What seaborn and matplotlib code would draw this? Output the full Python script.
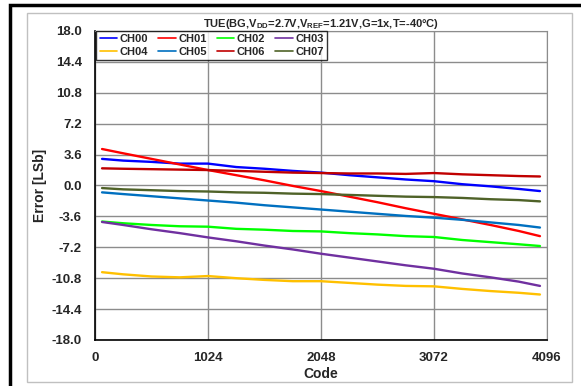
import matplotlib
matplotlib.use("Agg")
import pandas as pd
import seaborn as sns
import matplotlib.pyplot as plt
from matplotlib.patches import Rectangle

codes = [64, 256, 512, 768, 1024, 1280, 1536, 1792, 2048, 2304, 2560, 2816, 3072, 3328, 3584, 3840, 4032]
ch00 = [3.1, 2.9, 2.75, 2.55, 2.55, 2.15, 1.95, 1.7, 1.5, 1.2, 0.95, 0.7, 0.5, 0.15, -0.1, -0.4, -0.65]
ch01 = [4.25, 3.75, 3.1, 2.45, 1.8, 1.2, 0.6, -0.05, -0.65, -1.3, -1.95, -2.65, -3.3, -3.95, -4.6, -5.3, -5.9]
ch02 = [-4.2, -4.4, -4.6, -4.75, -4.8, -5.05, -5.15, -5.3, -5.35, -5.55, -5.7, -5.9, -6.0, -6.35, -6.6, -6.85, -7.05]
ch03 = [-4.25, -4.6, -5.1, -5.55, -6.05, -6.5, -7.0, -7.45, -7.95, -8.4, -8.85, -9.3, -9.7, -10.25, -10.7, -11.2, -11.7]
ch04 = [-10.1, -10.35, -10.6, -10.7, -10.55, -10.8, -11.0, -11.15, -11.15, -11.35, -11.55, -11.7, -11.75, -12.05, -12.3, -12.5, -12.7]
ch05 = [-0.8, -1.0, -1.25, -1.5, -1.75, -2.0, -2.3, -2.55, -2.8, -3.05, -3.3, -3.55, -3.75, -4.0, -4.3, -4.6, -4.9]
ch06 = [2.0, 1.95, 1.9, 1.85, 1.8, 1.7, 1.6, 1.5, 1.45, 1.4, 1.4, 1.35, 1.45, 1.3, 1.2, 1.1, 1.05]
ch07 = [-0.3, -0.45, -0.55, -0.65, -0.7, -0.8, -0.85, -0.95, -1.0, -1.1, -1.2, -1.3, -1.35, -1.45, -1.6, -1.7, -1.85]

channels = ["CH00", "CH01", "CH02", "CH03", "CH04", "CH05", "CH06", "CH07"]
colors = ["#0000FF", "#FF0000", "#00FF00", "#7030A0", "#FFC000", "#0070C0", "#C00000", "#4F6228"]
x_ticks = [0, 1024, 2048, 3072, 4096]
y_ticks = [18.0, 14.4, 10.8, 7.2, 3.6, 0.0, -3.6, -7.2, -10.8, -14.4, -18.0]

series = [ch00, ch01, ch02, ch03, ch04, ch05, ch06, ch07]
rows = []
for name, vals in zip(channels, series):
    for c, v in zip(codes, vals):
        rows.append({"code": c, "err": v, "ch": name})
df = pd.DataFrame(rows)

sns.set_style("white")
plt.rcParams["font.family"] = ["Liberation Sans", "DejaVu Sans"]
plt.rcParams["mathtext.fontset"] = "custom"
plt.rcParams["mathtext.bf"] = "Liberation Sans:bold"
plt.rcParams["mathtext.rm"] = "Liberation Sans:bold"

fig = plt.figure(figsize=(5.81, 3.86), dpi=100)
ax = fig.add_axes([0.1635, 0.1192, 0.778, 0.8005])

sns.lineplot(data=df, x="code", y="err", hue="ch", palette=dict(zip(channels, colors)),
             linewidth=1.7, ax=ax)

ax.set_xlim(0, 4096)
ax.set_ylim(-18, 18)
ax.set_xticks(x_ticks)
ax.set_xticklabels([str(t) for t in x_ticks], fontweight="bold", fontsize=9.5)
ax.set_yticks(y_ticks)
ax.set_yticklabels(["%.1f" % t for t in y_ticks], fontweight="bold", fontsize=9.5)
ax.tick_params(axis="y", length=0, pad=9.5)
ax.tick_params(axis="x", length=0, pad=9)
ax.grid(True, color="#8c8c8c", linewidth=1)
for s in ["top", "right"]:
    ax.spines[s].set_color("#8c8c8c")
for s in ["left", "bottom"]:
    ax.spines[s].set_color("black")
    ax.spines[s].set_linewidth(1.2)

ax.set_xlabel("Code", fontweight="bold", fontsize=10, labelpad=2)
ax.set_ylabel("Error [LSb]", fontweight="bold", fontsize=10, labelpad=3)
ax.set_title(r"TUE(BG,V$_{\mathbf{DD}}$=2.7V,V$_{\mathbf{REF}}$=1.21V,G=1x,T=-40°C)",
             fontweight="bold", fontsize=8, pad=3)

handles, labels = ax.get_legend_handles_labels()
order = [0, 4, 1, 5, 2, 6, 3, 7]
leg = ax.legend([handles[i] for i in order], [labels[i] for i in order], ncol=4,
                loc="upper left", bbox_to_anchor=(0.003, 1.0), borderaxespad=0,
                frameon=True, fancybox=False, edgecolor="black", handlelength=1.6,
                handletextpad=0.2, columnspacing=0.9, borderpad=0.3, labelspacing=0.2,
                prop={"weight": "bold", "size": 8})
leg.get_frame().set_linewidth(1.0)
for h in leg.legend_handles:
    h.set_linewidth(1.2)

fig.add_artist(Rectangle((27 / 581, 1 - 382 / 386), 545 / 581, 369 / 386, transform=fig.transFigure,
                         fill=False, edgecolor="#c0c0c0", linewidth=1))
fig.add_artist(Rectangle((10 / 581, -0.1), 1.2, (1 - 5 / 386) + 0.1, transform=fig.transFigure,
                         fill=False, edgecolor="black", linewidth=2.5))

fig.savefig("out.png", dpi=100)
